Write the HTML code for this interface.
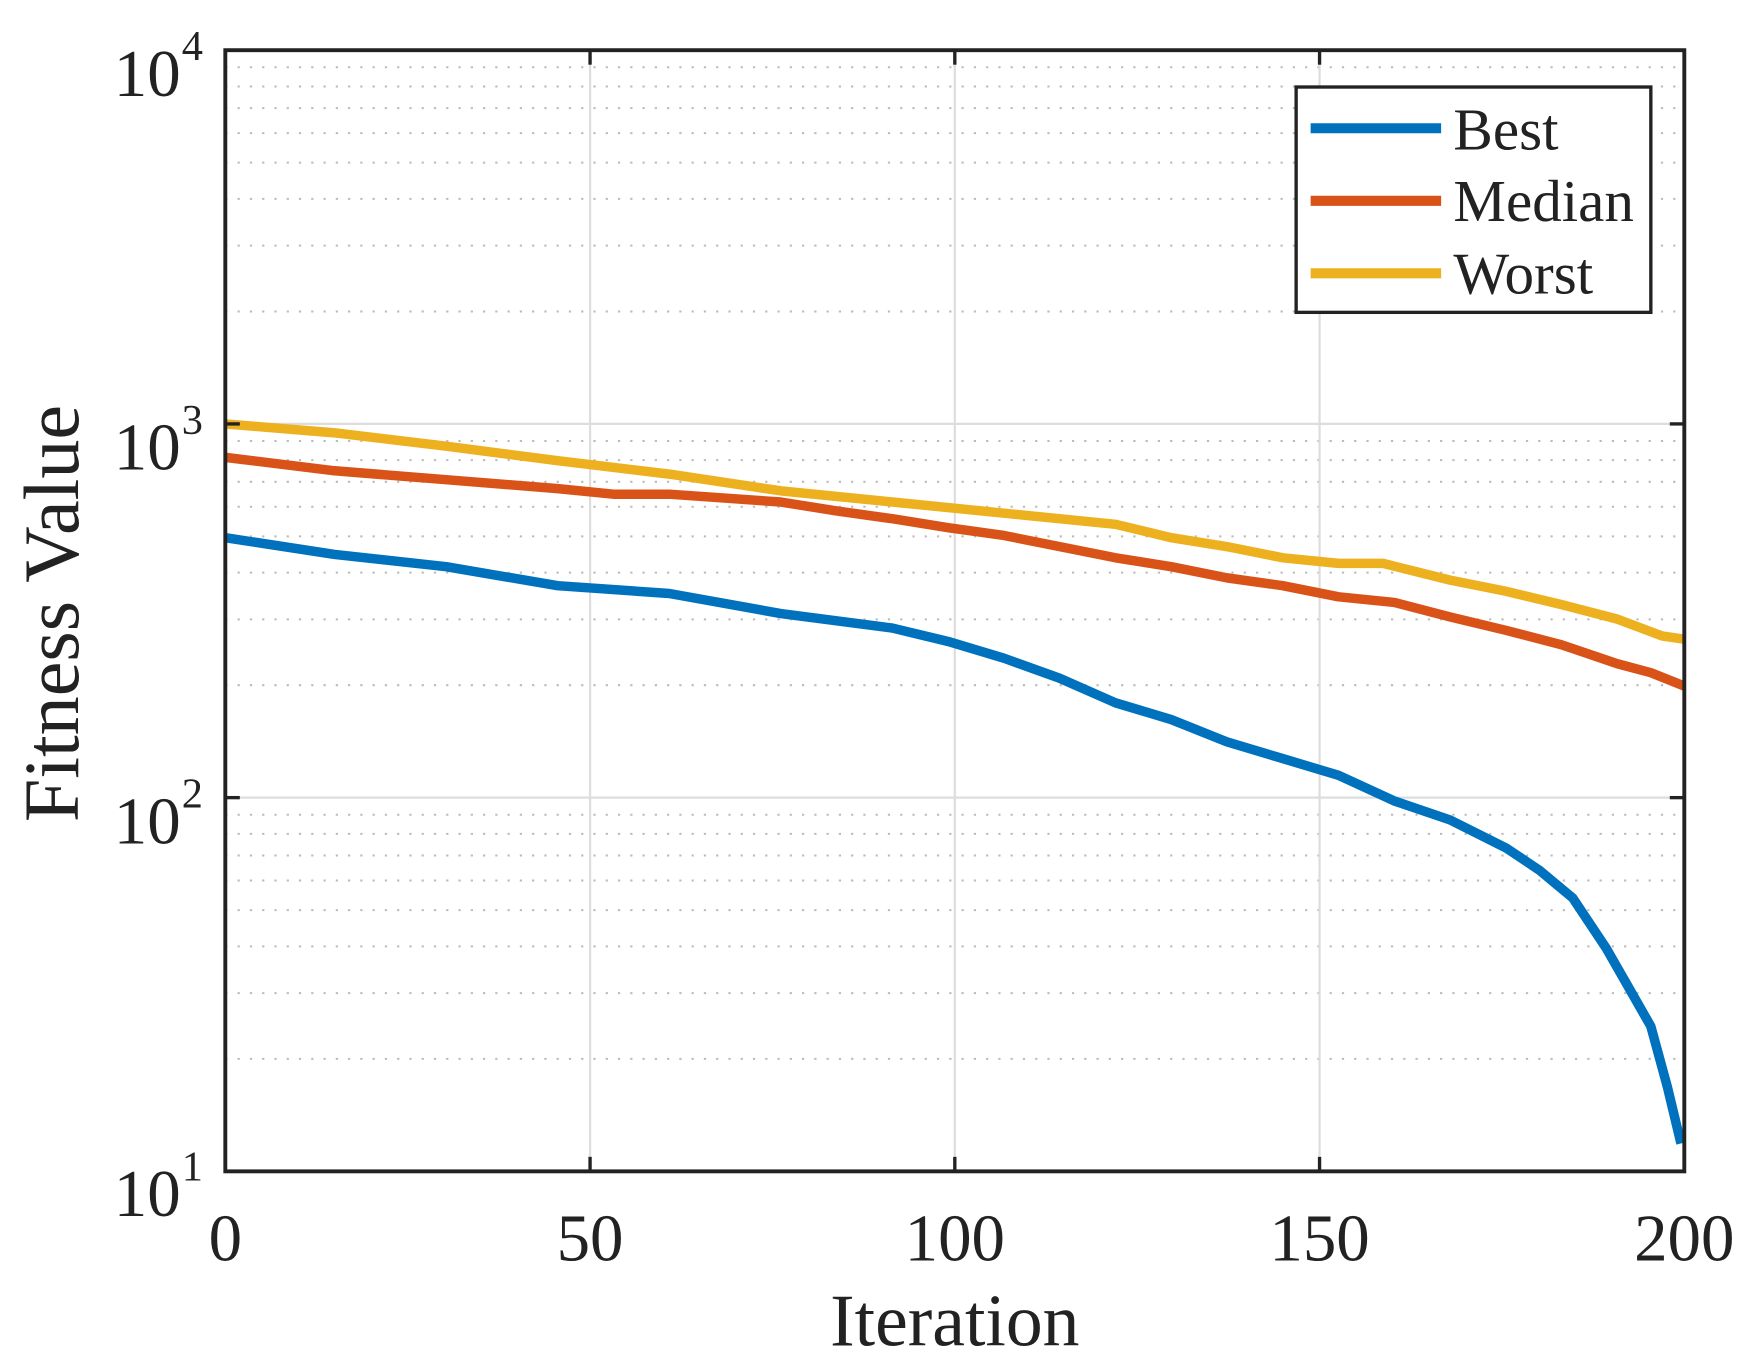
<!DOCTYPE html>
<html><head><style>html,body{margin:0;padding:0;background:#fff}</style></head><body>
<svg width="1749" height="1361" viewBox="0 0 1568 1220" preserveAspectRatio="none" xmlns="http://www.w3.org/2000/svg" font-family="Liberation Serif, serif" fill="#222">
<path fill="none" stroke="#bbb" stroke-width="1.8" stroke-dasharray="2,9" d="M202 949.2H1510M202 890.2H1510M202 848.3H1510M202 815.8H1510M202 789.3H1510M202 766.9H1510M202 747.5H1510M202 730.3H1510M202 614.2H1510M202 555.2H1510M202 513.3H1510M202 480.8H1510M202 454.3H1510M202 431.9H1510M202 412.5H1510M202 395.3H1510M202 279.2H1510M202 220.2H1510M202 178.3H1510M202 145.8H1510M202 119.3H1510M202 96.9H1510M202 77.5H1510M202 60.3H1510"/>
<path fill="none" stroke="#ddd" stroke-width="2" d="M202 715H1510M202 380H1510M529 45V1050M856 45V1050M1183 45V1050"/>
<g fill="none" stroke-width="8.5" stroke-linejoin="round">
<polyline stroke="#EDB120" points="202,380 300,388 400,400 500,413 600,425 700,440 800,450 900,460 1000,470 1050,482 1100,490 1150,500 1200,505 1240,505 1300,520 1350,530 1400,542 1450,555 1490,570 1510,573"/>
<polyline stroke="#D95319" points="202,410 300,422 400,430 500,438 550,443 600,443 700,450 750,458 800,465 850,473 900,480 950,490 1000,500 1050,508 1100,518 1150,525 1200,535 1250,540 1300,553 1350,565 1400,578 1450,595 1480,603 1510,615"/>
<polyline stroke="#0072BD" points="202,482 300,497 400,508 500,525 600,532 700,550 800,563 850,575 900,590 950,608 1000,630 1050,645 1100,665 1150,680 1200,695 1250,718 1300,735 1350,760 1380,780 1410,805 1440,850 1460,885 1480,920 1495,975 1507,1025"/>
</g>
<rect x="202" y="45" width="1308" height="1005" fill="none" stroke="#222" stroke-width="3.5"/>
<g stroke="#222" stroke-width="3">
<line x1="529" x2="529" y1="1050" y2="1037"/><line x1="856" x2="856" y1="1050" y2="1037"/><line x1="1183" x2="1183" y1="1050" y2="1037"/>
<line x1="529" x2="529" y1="45" y2="58"/><line x1="856" x2="856" y1="45" y2="58"/><line x1="1183" x2="1183" y1="45" y2="58"/>
<line x1="202" x2="215" y1="715" y2="715"/><line x1="202" x2="215" y1="380" y2="380"/>
<line x1="1510" x2="1497" y1="715" y2="715"/><line x1="1510" x2="1497" y1="380" y2="380"/>
</g>
<g font-size="60" text-anchor="middle">
<text x="202" y="1130">0</text><text x="529" y="1130">50</text><text x="856" y="1130">100</text><text x="1183" y="1130">150</text><text x="1510" y="1130">200</text>
</g>
<g font-size="60" text-anchor="end">
<text x="162" y="1090">10</text><text x="162" y="756">10</text><text x="162" y="421">10</text><text x="162" y="86">10</text>
</g>
<g font-size="38">
<text x="163" y="1058">1</text><text x="163" y="724">2</text><text x="163" y="389">3</text><text x="163" y="54">4</text>
</g>
<text x="856" y="1206" font-size="66" text-anchor="middle">Iteration</text>
<text transform="translate(70,550) rotate(-90)" font-size="70" text-anchor="middle">Fitness Value</text>
<rect x="1162" y="78" width="318" height="202" fill="#fff" stroke="#222" stroke-width="3"/>
<g stroke-width="9"><line x1="1175" x2="1292" y1="115" y2="115" stroke="#0072BD"/><line x1="1175" x2="1292" y1="180" y2="180" stroke="#D95319"/><line x1="1175" x2="1292" y1="245" y2="245" stroke="#EDB120"/></g>
<g font-size="53"><text x="1303" y="134">Best</text><text x="1303" y="198">Median</text><text x="1303" y="263">Worst</text></g>
</svg>
</body></html>
